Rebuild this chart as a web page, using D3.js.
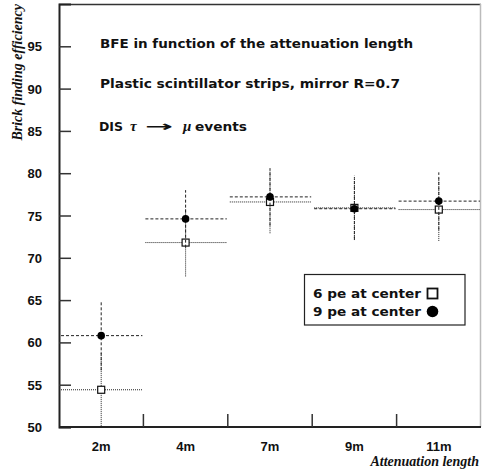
<!DOCTYPE html>
<html>
<head>
<meta charset="utf-8">
<script src="https://cdn.jsdelivr.net/npm/d3@7/dist/d3.min.js"></script>
<style>
  html, body { margin: 0; padding: 0; background: #fff; }
  svg { display: block; }
  .sans { font-family: "Liberation Sans", Arial, sans-serif; font-weight: bold; fill: #111; }
  .wide { font-family: "DejaVu Sans", Verdana, sans-serif; font-weight: bold; fill: #111; }
  .serif { font-family: "Liberation Serif", "Times New Roman", serif; font-weight: bold; font-style: italic; fill: #111; }
</style>
</head>
<body>
<script>
// Attenuation-length bins
const categories = ["2m", "4m", "7m", "9m", "11m"];
// 6 photo-electrons at strip centre (open squares)
const pe6Values = [54.4, 71.8, 76.6, 75.9, 75.7];
const pe6Errors = [4.5, 4.0, 3.7, 3.8, 3.7];
// 9 photo-electrons at strip centre (filled circles)
const pe9Values = [60.8, 74.6, 77.2, 75.8, 76.7];
const pe9Errors = [4.1, 3.4, 3.4, 3.6, 3.4];
const yTicks = [50, 55, 60, 65, 70, 75, 80, 85, 90, 95];

const W = 482, H = 476;
const m = { left: 59, right: 481, top: 4, bottom: 427 };

const svg = d3.select("body").append("svg").attr("width", W).attr("height", H);

const x = d3.scaleBand().domain(categories).range([m.left, m.right]).padding(0);
const y = d3.scaleLinear().domain([50, 100]).range([m.bottom, m.top]);

// Frame
svg.append("line").attr("x1", m.left).attr("x2", m.right).attr("y1", m.top + 0.5).attr("y2", m.top + 0.5)
  .attr("stroke", "#333").attr("stroke-width", 1.5);
svg.append("line").attr("x1", m.right - 0.5).attr("x2", m.right - 0.5).attr("y1", m.top).attr("y2", m.bottom)
  .attr("stroke", "#bbb").attr("stroke-width", 1.5);

// Plot region clip for error bars that run past the axis minimum
svg.append("clipPath").attr("id", "plotclip").append("rect")
  .attr("x", m.left).attr("y", m.top).attr("width", m.right - m.left).attr("height", m.bottom - m.top);

// Y axis
const yAxis = d3.axisLeft(y).tickValues(yTicks).tickSize(-12).tickPadding(17).tickFormat(d3.format("d"));
const gy = svg.append("g").attr("transform", `translate(${m.left},0)`).call(yAxis);
gy.select(".domain").attr("stroke", "#222").attr("stroke-width", 2);
gy.selectAll(".tick line").attr("stroke", "#333").attr("stroke-width", 1.5);
gy.selectAll(".tick text").attr("class", "sans").style("font-size", "13px").attr("dy", "0.35em");

// X axis: ticks on bin boundaries, labels at bin centres
const edges = categories.map(c => x(c)).concat([m.right]);
const gx = svg.append("g");
gx.append("line").attr("x1", m.left).attr("x2", m.right).attr("y1", m.bottom).attr("y2", m.bottom)
  .attr("stroke", "#222").attr("stroke-width", 2);
gx.selectAll("line.tk").data(edges.slice(1, -1)).join("line").attr("class", "tk")
  .attr("x1", d => d).attr("x2", d => d).attr("y1", m.bottom).attr("y2", m.bottom - 13)
  .attr("stroke", "#333").attr("stroke-width", 1.5);
gx.selectAll("text").data(categories).join("text").attr("class", "sans")
  .attr("x", d => x(d) + x.bandwidth() / 2).attr("y", 451)
  .attr("text-anchor", "middle").style("font-size", "13px").text(d => d);

// Axis titles
svg.append("text").attr("class", "serif").style("font-size", "14px")
  .attr("text-anchor", "end").attr("x", 479).attr("y", 466).text("Attenuation length");
svg.append("text").attr("class", "serif").style("font-size", "14px")
  .attr("text-anchor", "end").attr("transform", "translate(22,4) rotate(-90)").text("Brick finding efficiency");

// Error bars and markers
const plot = svg.append("g").attr("clip-path", "url(#plotclip)");
function series(vals, errs, dash) {
  const g = plot.append("g");
  const d = vals.map((v, i) => ({ c: categories[i], v, e: errs[i] }));
  g.selectAll("line.h").data(d).join("line").attr("class", "h")
    .attr("x1", p => x(p.c) + 2).attr("x2", p => x(p.c) + x.bandwidth() - 1)
    .attr("y1", p => y(p.v)).attr("y2", p => y(p.v))
    .attr("stroke", "#222").attr("stroke-width", 1).attr("stroke-dasharray", dash);
  g.selectAll("line.v").data(d).join("line").attr("class", "v")
    .attr("x1", p => x(p.c) + x.bandwidth() / 2).attr("x2", p => x(p.c) + x.bandwidth() / 2)
    .attr("y1", p => y(p.v - p.e)).attr("y2", p => y(p.v + p.e))
    .attr("stroke", "#222").attr("stroke-width", 1).attr("stroke-dasharray", dash);
  return { g, d };
}
const s6 = series(pe6Values, pe6Errors, "1,1");
const s9 = series(pe9Values, pe9Errors, "3,2");

s6.g.selectAll("rect").data(s6.d).join("rect")
  .attr("x", p => x(p.c) + x.bandwidth() / 2 - 3.5).attr("y", p => y(p.v) - 3.5)
  .attr("width", 7).attr("height", 7).attr("fill", "#fff").attr("stroke", "#111").attr("stroke-width", 1.2);
s9.g.selectAll("circle").data(s9.d).join("circle")
  .attr("cx", p => x(p.c) + x.bandwidth() / 2).attr("cy", p => y(p.v)).attr("r", 3.8).attr("fill", "#000");

// Annotation text
const ann = svg.append("g").attr("class", "wide").style("font-size", "12px");
ann.append("text").attr("x", 100).attr("y", 48).attr("textLength", 313).attr("lengthAdjust", "spacingAndGlyphs")
  .text("BFE in function of the attenuation length");
ann.append("text").attr("x", 100).attr("y", 88).attr("textLength", 300).attr("lengthAdjust", "spacingAndGlyphs")
  .text("Plastic scintillator strips, mirror R=0.7");
const t3 = ann.append("text").attr("y", 131);
t3.append("tspan").attr("x", 99).attr("textLength", 24).attr("lengthAdjust", "spacingAndGlyphs").text("DIS");
t3.append("tspan").attr("x", 130).attr("font-family", "'Liberation Serif', serif").attr("font-style", "italic").style("font-size", "15px").text("τ");
t3.append("tspan").attr("x", 145).attr("textLength", 28).attr("lengthAdjust", "spacingAndGlyphs").style("font-size", "14px").text("→");
t3.append("tspan").attr("x", 183).attr("font-family", "'Liberation Serif', serif").attr("font-style", "italic").style("font-size", "15px").text("μ");
t3.append("tspan").attr("x", 195).attr("textLength", 52).attr("lengthAdjust", "spacingAndGlyphs").text("events");

// Legend
const lg = svg.append("g");
lg.append("rect").attr("x", 304.5).attr("y", 274.5).attr("width", 160.5).attr("height", 50.5)
  .attr("fill", "#fff").attr("stroke", "#222").attr("stroke-width", 1.2);
lg.append("text").attr("class", "wide").style("font-size", "13px").attr("x", 313).attr("y", 298)
  .attr("textLength", 108).attr("lengthAdjust", "spacingAndGlyphs").text("6 pe at center");
lg.append("text").attr("class", "wide").style("font-size", "13px").attr("x", 313).attr("y", 316)
  .attr("textLength", 108).attr("lengthAdjust", "spacingAndGlyphs").text("9 pe at center");
lg.append("rect").attr("x", 427.5).attr("y", 288.5).attr("width", 10).attr("height", 10)
  .attr("fill", "#fff").attr("stroke", "#111").attr("stroke-width", 1.8);
lg.append("circle").attr("cx", 432.5).attr("cy", 311.5).attr("r", 5.8).attr("fill", "#000");
</script>
</body>
</html>
